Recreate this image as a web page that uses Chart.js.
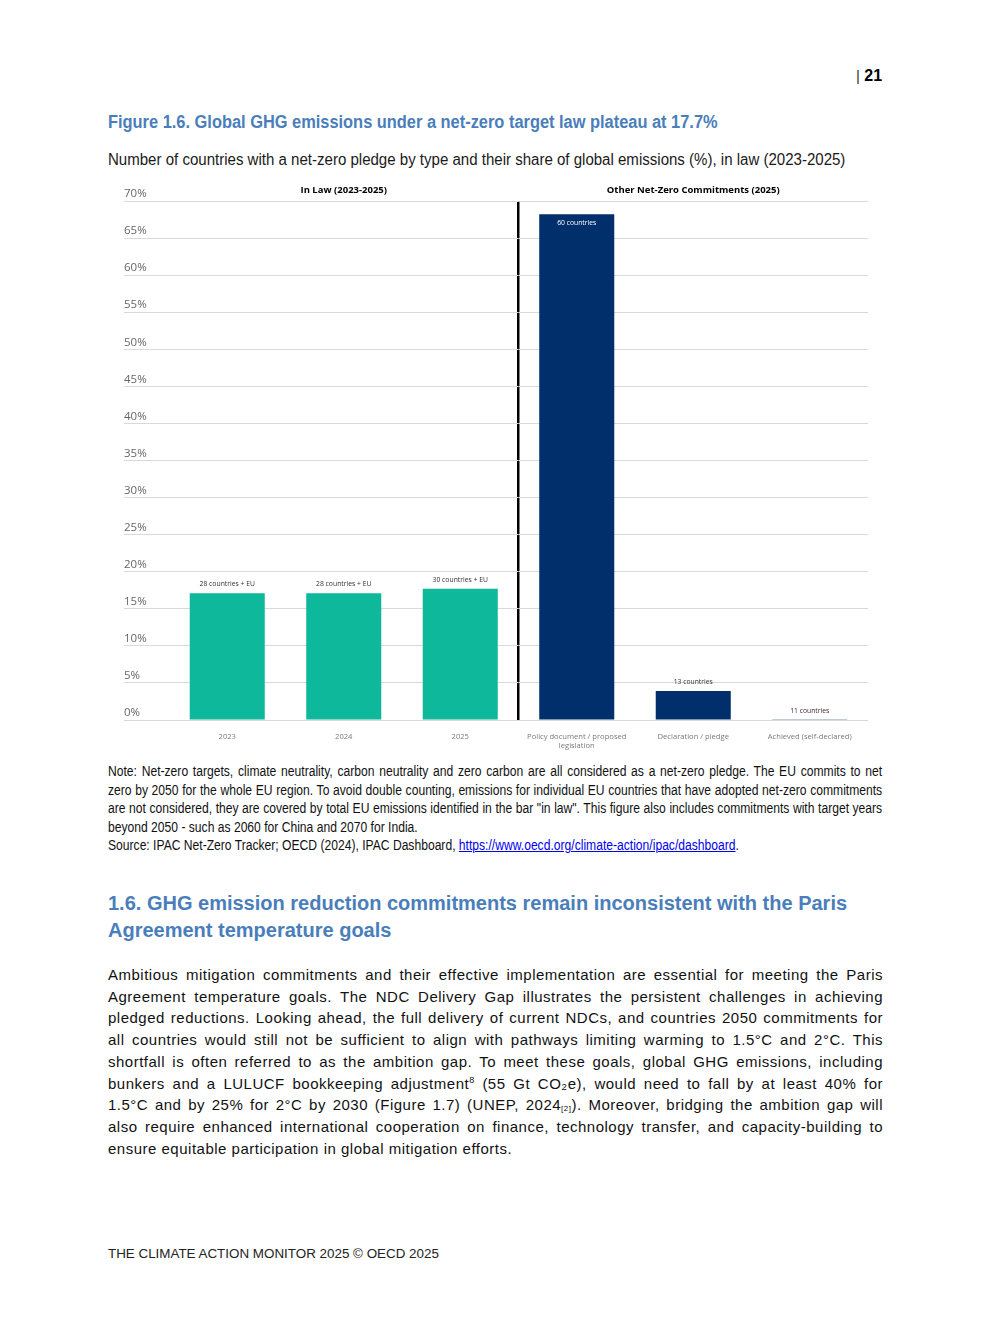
<!DOCTYPE html>
<html>
<head>
<meta charset="utf-8">
<script src="https://cdn.jsdelivr.net/npm/chart.js@4.4.1/dist/chart.umd.min.js"></script>
<style>
    html, body { margin: 0; padding: 0; background: #fff; }
    body { width: 992px; height: 1323px; position: relative; overflow: hidden; font-family: "Liberation Sans", Arial, sans-serif; color: #000; }
    .abs { position: absolute; }
    .pageno { left: 856px; top: 66px; line-height: 20px; font-size: 16px; }
    .pageno .bar { font-weight: normal; font-size: 15px; color: #333; }
    .fit { transform-origin: left top; white-space: nowrap; }
    .title { left: 108px; top: 111px; line-height: 22px; font-size: 17.5px; font-weight: bold; color: #4a7ebb; }
    .subtitle { left: 108px; top: 150px; line-height: 20px; font-size: 16px; color: #1a1a1a; }
    .chartbox { left: 108px; top: 180px; width: 770px; height: 575px; }
    .note { left: 108px; top: 762px; width: 895px; font-size: 14px; line-height: 18.5px; color: #111; transform: scaleX(0.865); transform-origin: left top; }
    .note div, .body div, .heading div { text-align: justify; text-align-last: justify; white-space: nowrap; }
    .note div.last, .body div.last, .heading div.last { text-align-last: left; }
    .note a { color: #0000ee; text-decoration: underline; }
    .heading { left: 108px; top: 890px; width: 739px; font-size: 20px; line-height: 27px; font-weight: bold; color: #4a7ebb; }
    .body { left: 108px; top: 964px; width: 775px; font-size: 15px; line-height: 21.7px; letter-spacing: 0.5px; color: #111; }
    .body sup { font-size: 9px; line-height: 0; vertical-align: 6px; }
    .body sub { font-size: 8px; line-height: 0; vertical-align: -1px; }
    .footer { left: 108px; top: 1246px; font-size: 13.4px; line-height: 16px; color: #222; white-space: nowrap; }
</style>
</head>
<body>
<div class="abs pageno"><span class="bar">|</span> <b>21</b></div>
<div class="abs title fit" data-fit="610">Figure 1.6. Global GHG emissions under a net-zero target law plateau at 17.7%</div>
<div class="abs subtitle fit" data-fit="737">Number of countries with a net-zero pledge by type and their share of global emissions (%), in law (2023-2025)</div>
<div class="abs chartbox"><canvas id="netZeroChart"></canvas></div>
<div class="abs note">
    <div>Note: Net-zero targets, climate neutrality, carbon neutrality and zero carbon are all considered as a net-zero pledge. The EU commits to net</div>
    <div>zero by 2050 for the whole EU region. To avoid double counting, emissions for individual EU countries that have adopted net-zero commitments</div>
    <div>are not considered, they are covered by total EU emissions identified in the bar "in law". This figure also includes commitments with target years</div>
    <div class="last">beyond 2050 - such as 2060 for China and 2070 for India.</div>
    <div class="last">Source: IPAC Net-Zero Tracker; OECD (2024), IPAC Dashboard, <a>https://www.oecd.org/climate-action/ipac/dashboard</a>.</div>
</div>
<div class="abs heading">
    <div>1.6. GHG emission reduction commitments remain inconsistent with the Paris</div>
    <div class="last">Agreement temperature goals</div>
</div>
<div class="abs body">
    <div>Ambitious mitigation commitments and their effective implementation are essential for meeting the Paris</div>
    <div>Agreement temperature goals. The NDC Delivery Gap illustrates the persistent challenges in achieving</div>
    <div>pledged reductions. Looking ahead, the full delivery of current NDCs, and countries 2050 commitments for</div>
    <div>all countries would still not be sufficient to align with pathways limiting warming to 1.5°C and 2°C. This</div>
    <div>shortfall is often referred to as the ambition gap. To meet these goals, global GHG emissions, including</div>
    <div>bunkers and a LULUCF bookkeeping adjustment<sup>8</sup> (55 Gt CO₂e), would need to fall by at least 40% for</div>
    <div>1.5°C and by 25% for 2°C by 2030 (Figure 1.7) (UNEP, 2024<sub>[2]</sub>). Moreover, bridging the ambition gap will</div>
    <div>also require enhanced international cooperation on finance, technology transfer, and capacity-building to</div>
    <div class="last">ensure equitable participation in global mitigation efforts.</div>
</div>
<div class="abs footer">THE CLIMATE ACTION MONITOR 2025 © OECD 2025</div>

<script>
    // chart data
    const categories = ["2023", "2024", "2025", ["Policy document / proposed", "legislation"], "Declaration / pledge", "Achieved (self-declared)"];
    const shareValues = [17.1, 17.1, 17.7, 68.2, 3.9, 0.02];
    const countLabels = ["28 countries + EU", "28 countries + EU", "30 countries + EU", "60 countries", "13 countries", "11 countries"];
    const groupTitles = ["In Law (2023-2025)", "Other Net-Zero Commitments (2025)"];
    const groupCenterIndex = [1, 4];
    const dividerIndex = 3;
    const yMin = 0;
    const yMax = 70;
    const yStep = 5;

    const green = "#0eb89b";
    const navy = "#002f6c";
    const gridGrey = "#d9d9d9";
    const barColors = categories.map((c, i) => (i < dividerIndex ? green : navy));

    const font = "'Open Sans', 'Noto Sans', sans-serif";

    // squeeze the narrow-font lines to their width on the page
    document.querySelectorAll("[data-fit]").forEach((el) => {
        const w = Number(el.dataset.fit);
        el.style.transform = `scaleX(${w / el.scrollWidth})`;
    });

    const annotate = {
        id: "annotate",
        afterDatasetsDraw(chart) {
            const ctx = chart.ctx;
            const meta = chart.getDatasetMeta(0);
            const x = chart.scales.x;
            const top = chart.chartArea.top;
            ctx.save();
            ctx.textAlign = "center";
            ctx.textBaseline = "middle";

            ctx.font = "6.8px " + font;
            meta.data.forEach((bar, i) => {
                const inside = shareValues[i] > 50;
                ctx.fillStyle = inside ? "#ffffff" : "#333333";
                const y = inside ? bar.y + 9 : bar.y - 9;
                ctx.fillText(countLabels[i], bar.x, y);
            });

            ctx.font = "bold 9.5px " + font;
            ctx.fillStyle = "#000";
            groupTitles.forEach((t, i) => {
                ctx.fillText(t, x.getPixelForValue(groupCenterIndex[i]), top - 11);
            });
            ctx.restore();
        }
    };

    new Chart(document.getElementById("netZeroChart"), {
        type: "bar",
        data: {
            labels: categories,
            datasets: [{
                data: shareValues,
                backgroundColor: barColors,
                borderWidth: 0,
                barPercentage: 1,
                categoryPercentage: 0.644
            }]
        },
        options: {
            responsive: true,
            maintainAspectRatio: false,
            animation: false,
            devicePixelRatio: 1,
            layout: { padding: { left: 16, right: 10, top: 21, bottom: 0 } },
            plugins: {
                legend: { display: false },
                tooltip: { enabled: false }
            },
            scales: {
                x: {
                    border: { display: false },
                    grid: {
                        offset: true,
                        drawTicks: false,
                        color: (c) => (c.index === dividerIndex ? "#000" : "rgba(0,0,0,0)"),
                        lineWidth: 2.5
                    },
                    ticks: {
                        color: "#7a7a7a",
                        font: { family: font, size: 7.6 },
                        padding: 12,
                        maxRotation: 0,
                        autoSkip: false
                    },
                    afterFit: (scale) => { scale.height = 35; }
                },
                y: {
                    min: yMin,
                    max: yMax,
                    border: { display: false },
                    grid: {
                        color: gridGrey,
                        lineWidth: 1,
                        drawTicks: true,
                        tickLength: 45
                    },
                    ticks: {
                        stepSize: yStep,
                        crossAlign: "far",
                        padding: 0,
                        labelOffset: -7,
                        color: "#666",
                        font: { family: font, size: 11.5 },
                        callback: (v) => v + "%"
                    },
                    afterFit: (scale) => { scale.width = 45; }
                }
            }
        },
        plugins: [annotate]
    });
</script>
</body>
</html>
